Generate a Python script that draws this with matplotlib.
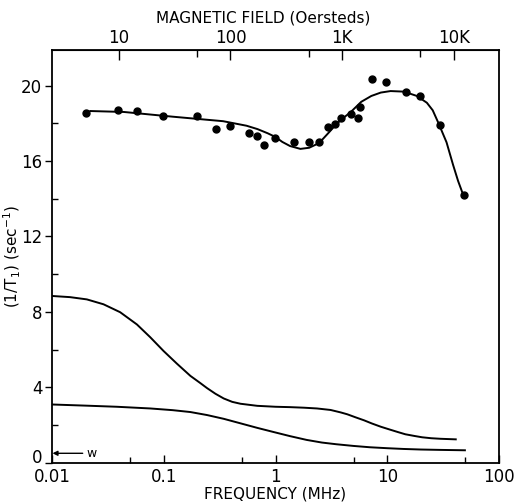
import matplotlib
matplotlib.use('Agg')
import matplotlib.pyplot as plt
import matplotlib.transforms as mtransforms
from matplotlib.ticker import FixedLocator, NullFormatter

plt.rcParams['font.family'] = ['DejaVu Sans']

# --- measured points (frequency MHz, 1/T1 sec^-1) ---
pt_freq = [0.0202, 0.0388, 0.0582, 0.0975, 0.198, 0.296, 0.389, 0.581, 0.686,
           0.796, 0.986, 1.46, 1.99, 2.47, 2.97, 3.43, 3.88, 4.77, 5.47, 5.75,
           7.37, 9.75, 14.8, 19.7, 29.4, 48.2]
pt_rate = [18.54, 18.73, 18.66, 18.39, 18.38, 17.72, 17.86, 17.51, 17.33,
           16.84, 17.24, 17.01, 17.01, 17.01, 17.8, 17.95, 18.29, 18.52, 18.29,
           18.87, 20.35, 20.18, 19.69, 19.48, 17.9, 14.18]

# --- fitted curve through the points ---
fit_freq = [0.022, 0.044, 0.12, 0.34, 0.55, 0.69, 0.85, 1.0, 1.15, 1.35, 1.67,
            2.0, 2.3, 2.6, 3.0, 3.4, 3.9, 4.7, 5.85, 7.2, 8.75, 10.7, 14.1,
            18.4, 22.6, 25.5, 28.6, 33.9, 38.8, 43.0, 48.0]
fit_rate = [18.66, 18.61, 18.36, 18.12, 17.88, 17.70, 17.48, 17.28, 17.02,
            16.80, 16.65, 16.71, 16.88, 17.12, 17.52, 17.88, 18.22, 18.60,
            19.15, 19.46, 19.64, 19.72, 19.69, 19.46, 19.10, 18.70, 18.04,
            17.00, 15.80, 14.95, 14.18]

# --- lower curves ---
upper_freq = [0.0101, 0.0145, 0.0205, 0.0289, 0.0407, 0.0575, 0.0757, 0.0996,
              0.131, 0.173, 0.212, 0.244, 0.29, 0.344, 0.41, 0.486, 0.686, 1.0,
              1.35, 1.8, 2.35, 3.11, 3.83, 4.39, 5.2, 6.2, 7.3, 8.75, 10.4,
              12.4, 14.5, 17.5, 20.5, 24.7, 30.0, 41.0]
upper_rate = [8.84, 8.78, 8.66, 8.40, 7.98, 7.33, 6.65, 5.92, 5.25, 4.60, 4.22,
              3.95, 3.65, 3.40, 3.22, 3.12, 3.01, 2.96, 2.94, 2.91, 2.87, 2.79,
              2.66, 2.56, 2.40, 2.24, 2.07, 1.90, 1.76, 1.62, 1.50, 1.41, 1.34,
              1.29, 1.26, 1.23]

lower_freq = [0.0101, 0.02, 0.038, 0.0757, 0.12, 0.173, 0.244, 0.344, 0.486,
              0.686, 0.96, 1.35, 1.9, 2.6, 3.5, 5.0, 7.0, 10.0, 14.0, 20.0,
              30.0, 49.5]
lower_rate = [3.08, 3.02, 2.96, 2.87, 2.78, 2.68, 2.52, 2.32, 2.08, 1.84, 1.62,
              1.40, 1.20, 1.06, 0.97, 0.88, 0.81, 0.76, 0.72, 0.69, 0.67, 0.65]

freq_ticks = [0.01, 0.1, 1, 10, 100]
freq_labels = ['0.01', '0.1', '1', '10', '100']
field_ticks = [10, 100, 1000, 10000]
field_labels = ['10', '100', '1K', '10K']

MHZ_PER_OE = 0.00395  # frequency / field scale

fig = plt.figure(figsize=(5.15, 5.04), dpi=100)
ax = fig.add_axes([0.101, 0.0823, 0.868, 0.8185])

ax.plot(fit_freq, fit_rate, color='black', lw=1.4)
ax.plot(pt_freq, pt_rate, 'o', color='black', ms=5)
ax.plot(upper_freq, upper_rate, color='black', lw=1.4)
ax.plot(lower_freq, lower_rate, color='black', lw=1.4)

# water arrow
ax.annotate('w', xy=(0.0101, 0.49), xytext=(0.0205, 0.49),
            fontsize=9, va='center', ha='left',
            arrowprops=dict(arrowstyle='-|>', color='black', lw=1.0,
                            mutation_scale=7, shrinkA=1, shrinkB=0))

ax.set_xscale('log')
ax.set_xlim(0.01, 100)
ax.set_ylim(0, 21.9)

ax.xaxis.set_major_locator(FixedLocator(freq_ticks))
ax.set_xticklabels(freq_labels, fontsize=12)
ax.xaxis.set_minor_locator(FixedLocator([0.05, 0.5, 5, 50]))
ax.xaxis.set_minor_formatter(NullFormatter())
ax.tick_params(axis='x', which='major', direction='in', length=6, width=1, pad=4)
ax.tick_params(axis='x', which='minor', direction='in', length=4, width=1)

ax.set_yticks([0, 4, 8, 12, 16, 20])
ax.set_yticklabels(['0', '4', '8', '12', '16', '20'], fontsize=12)
ax.yaxis.set_minor_locator(FixedLocator([2, 6, 10, 14, 18]))
ax.tick_params(axis='y', which='major', direction='out', length=5, width=1, pad=2)
ax.tick_params(axis='y', which='minor', direction='in', length=4, width=1)

# lift the "0" label clear of the "0.01" label, as in the original
zero_lbl = ax.get_yticklabels()[0]
zero_lbl.set_transform(zero_lbl.get_transform() +
                       mtransforms.ScaledTranslation(0, 7 / 100, fig.dpi_scale_trans))

ax.set_xlabel('FREQUENCY (MHz)', fontsize=11, labelpad=0)
ax.set_ylabel('(1/T$_1$) (sec$^{-1}$)', fontsize=11)
ax.yaxis.set_label_coords(-0.066, 0.5)

for s in ax.spines.values():
    s.set_linewidth(1.3)

top = ax.secondary_xaxis('top', functions=(lambda f: f / MHZ_PER_OE,
                                           lambda h: h * MHZ_PER_OE))
top.xaxis.set_major_locator(FixedLocator(field_ticks))
top.set_xticklabels(field_labels, fontsize=12)
top.xaxis.set_minor_locator(FixedLocator([50, 500, 5000]))
top.xaxis.set_minor_formatter(NullFormatter())
top.tick_params(which='major', direction='in', length=7, width=1, pad=2)
top.tick_params(which='minor', direction='in', length=5, width=1)
top.set_xlabel('MAGNETIC FIELD (Oersteds)', fontsize=11)
top.xaxis.set_label_coords(0.473, 1.066, transform=ax.transAxes)

fig.savefig('out.png', dpi=100)
